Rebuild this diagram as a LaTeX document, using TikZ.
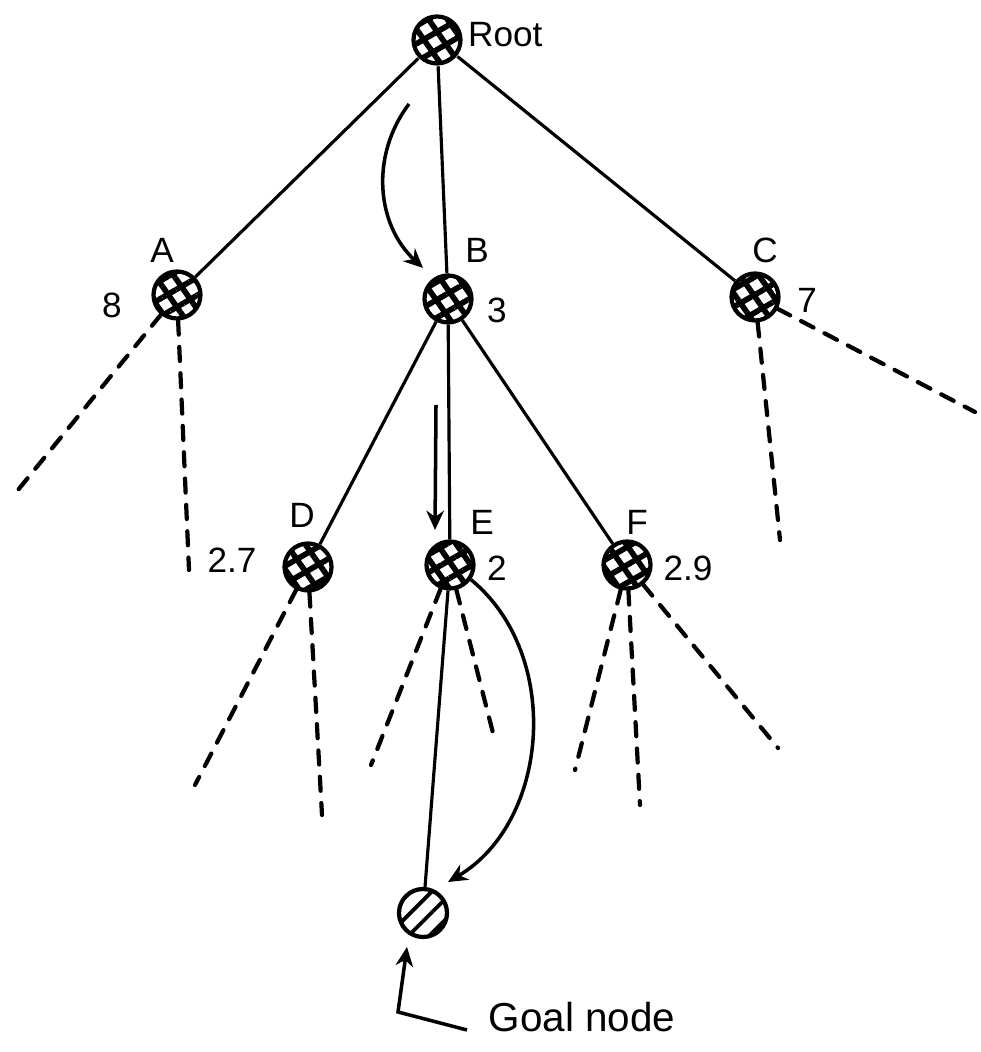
\documentclass[tikz,border=0pt]{standalone}
\usepackage{fontspec}
\setmainfont{Liberation Sans}
\usetikzlibrary{arrows.meta, patterns.meta}

\begin{document}
\begin{tikzpicture}[
    >={Stealth[length=5.5pt,width=5pt]},
    visited/.style={circle, draw, line width=1.2pt, minimum size=0.47cm, inner sep=0pt,
        pattern={Lines[angle=30,distance=4.4pt,line width=1.6pt]},
        postaction={pattern={Lines[angle=-55,distance=4.4pt,line width=1.6pt]}}},
    goalstate/.style={circle, draw, line width=1.2pt, minimum size=0.48cm, inner sep=0pt,
        pattern={Lines[angle=45,distance=4.2pt,line width=1.1pt]}},
    lbl/.style={font=\fontsize{10}{12}\selectfont, inner sep=1pt},
    branch/.style={line width=0.9pt},
    unseen/.style={line width=1.2pt, dash pattern=on 4pt off 3.5pt, line cap=round},
    arr/.style={->, line width=1pt}
]
\useasboundingbox (0,0) rectangle (9.8,10.52);

% search tree
\node[visited] (root) at (4.37,10.12) {};
\node[visited] (A) at (1.77,7.57) {};
\node[visited] (B) at (4.48,7.53) {};
\node[visited] (C) at (7.55,7.55) {};
\node[visited] (D) at (3.08,4.85) {};
\node[visited] (E) at (4.50,4.87) {};
\node[visited] (F) at (6.27,4.87) {};
\node[goalstate] (goal) at (4.23,1.39) {};

% names and values
\node[lbl, anchor=west] (rootname) at (4.64,10.17) {Root};
\node[lbl] (Aname) at (1.62,8.02) {A};
\node[lbl] (Aval) at (1.12,7.47) {8};
\node[lbl] (Bname) at (4.77,8.02) {B};
\node[lbl] (Bval) at (4.97,7.42) {3};
\node[lbl] (Cname) at (7.65,8.02) {C};
\node[lbl] (Cval) at (8.07,7.52) {7};
\node[lbl] (Dname) at (3.02,5.37) {D};
\node[lbl] (Dval) at (2.32,4.92) {2.7};
\node[lbl] (Ename) at (4.82,5.30) {E};
\node[lbl] (Eval) at (4.97,4.84) {2};
\node[lbl] (Fname) at (6.37,5.30) {F};
\node[lbl] (Fval) at (6.88,4.84) {2.9};
\node[font=\fontsize{11.5}{13}\selectfont] (goalname) at (5.82,0.35) {Goal node};

% branches
\foreach \a/\b in {root/A, root/B, root/C, B/D, B/E, B/F, E/goal} {
    \draw[branch] (\a) -- (\b);
}

% unexpanded branches
\coordinate (a1) at (0.18,5.62);
\coordinate (a2) at (1.89,4.82);
\coordinate (c1) at (7.80,5.12);
\coordinate (c2) at (9.75,6.40);
\coordinate (d1) at (1.95,2.67);
\coordinate (d2) at (3.22,2.37);
\coordinate (e1) at (3.71,2.87);
\coordinate (e2) at (4.93,3.19);
\coordinate (f1) at (5.75,2.82);
\coordinate (f2) at (6.40,2.47);
\coordinate (f3) at (7.78,3.04);
\foreach \a/\b in {A/a1, A/a2, C/c1, C/c2, D/d1, D/d2, E/e1, E/e2, F/f1, F/f2, F/f3} {
    \draw[unseen] (\a) -- (\b);
}

% search direction
\coordinate (s1) at (4.09,9.48);
\coordinate (s2) at (4.23,7.84);
\draw[arr] (s1) to[bend right=42] (s2);
\coordinate (s3) at (4.36,6.47);
\coordinate (s4) at (4.35,5.22);
\draw[arr] (s3) -- (s4);
\coordinate (s5) at (4.48,1.70);
\draw[arr] (E.-35) to[bend left=55] (s5);

% pointer to goal
\coordinate (g1) at (4.67,0.22);
\coordinate (g2) at (3.98,0.40);
\coordinate (g3) at (4.07,1.05);
\draw[arr] (g1) -- (g2) -- (g3);

\end{tikzpicture}
\end{document}
